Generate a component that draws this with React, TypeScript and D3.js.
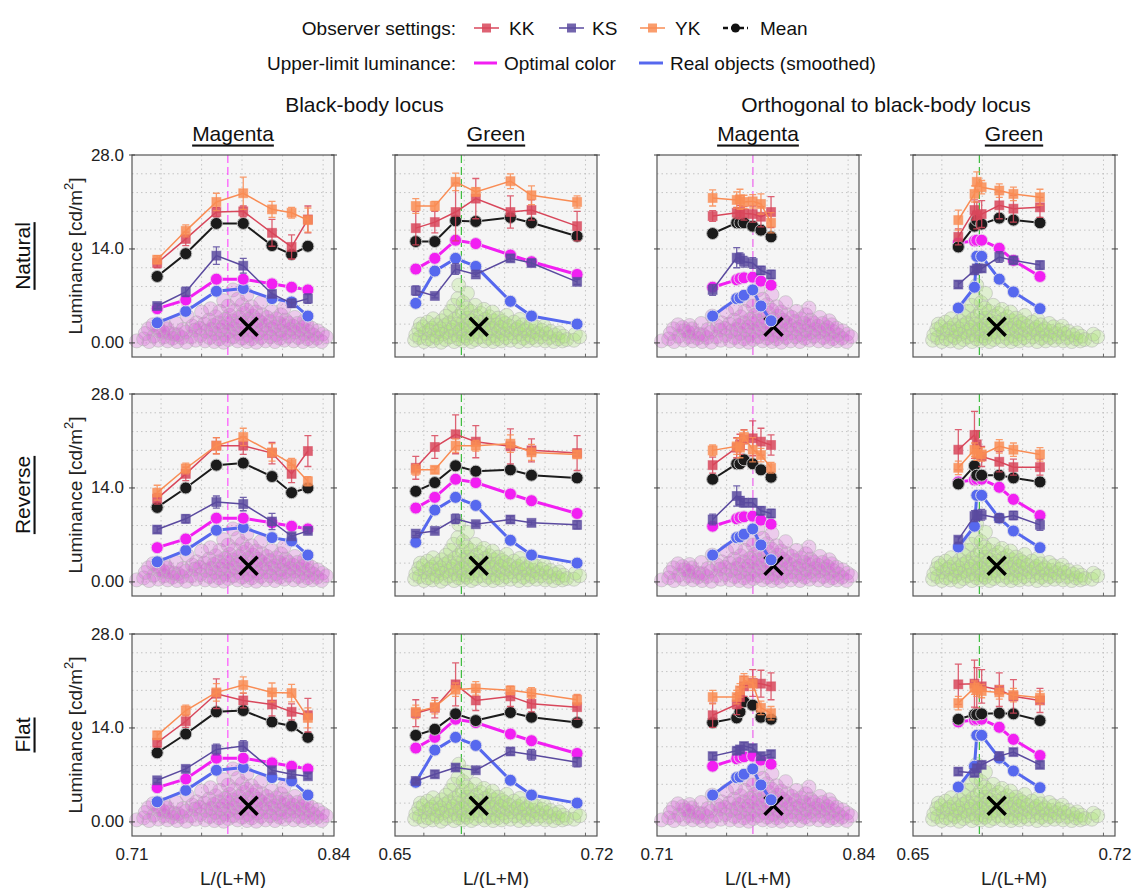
import React, { useEffect, useRef } from 'react'
import * as d3 from 'd3'

// chromaticity of the stimuli, one list per column
const xBBMagenta = [0.7262, 0.7446, 0.7643, 0.7816, 0.8001, 0.8127, 0.8232]
const xBBGreen = [0.6572, 0.6638, 0.671, 0.678, 0.69, 0.6973, 0.7131]
const xOrthMagenta = [0.7458, 0.7613, 0.7634, 0.766, 0.7716, 0.7769, 0.7834]
const xOrthGreen = [0.6657, 0.6713, 0.6721, 0.6738, 0.6799, 0.6848, 0.694]

// upper-limit luminance (same in every row)
const optimalColor = [
  [5.1, 6.4, 9.5, 9.5, 8.8, 8.3, 7.9],
  [11.0, 12.6, 15.3, 14.8, 13.1, 12.1, 10.2],
  [8.3, 9.4, 9.6, 9.7, 9.8, 9.2, 8.6],
  [14.9, 15.2, 15.3, 15.3, 14.1, 12.3, 9.9],
]
const realObjects = [
  [3.0, 4.7, 7.7, 8.1, 6.6, 6.1, 4.0],
  [5.9, 10.7, 12.6, 11.4, 6.2, 4.0, 2.8],
  [4.0, 6.6, 6.7, 7.1, 7.9, 5.5, 3.3],
  [5.2, 8.3, 12.9, 12.9, 9.5, 7.6, 5.1],
]

// Natural
const naturalKK = [
  [11.9, 15.5, 19.5, 19.6, 16.4, 14.3, 18.4],
  [17.1, 18.0, 19.5, 21.5, 19.5, 19.8, 17.4],
  [18.9, 19.4, 19.5, 19.3, 19.2, 18.8, 19.5],
  [15.8, 19.8, 19.0, 19.2, 20.5, 20.0, 20.2],
]
const naturalKKErr = [
  [0.7, 1.0, 0.7, 0.8, 2.0, 1.8, 2.0],
  [2.5, 1.6, 4.3, 3.0, 2.4, 1.5, 2.2],
  [0.8, 0.8, 1.0, 1.0, 1.2, 1.5, 2.3],
  [1.2, 1.5, 2.0, 2.0, 2.0, 2.0, 1.5],
]
const naturalKS = [
  [5.5, 7.6, 13.0, 11.5, 7.3, 5.9, 6.6],
  [7.8, 7.0, 11.0, 10.2, 12.6, 11.9, 9.1],
  [7.9, 12.7, 12.6, 12.1, 11.9, 10.8, 10.2],
  [8.7, 10.8, 11.1, 11.1, 12.8, 12.3, 11.6],
]
const naturalKSErr = [
  [0.4, 0.7, 1.3, 1.1, 0.5, 0.6, 0.7],
  [0.7, 0.3, 0.8, 0.3, 0.5, 0.5, 0.4],
  [0.8, 1.5, 0.8, 0.8, 0.8, 0.6, 0.6],
  [0.5, 0.5, 0.5, 0.5, 0.8, 0.5, 0.6],
]
const naturalYK = [
  [12.4, 16.7, 21.0, 22.3, 19.9, 19.4, 18.3],
  [20.4, 20.4, 24.0, 22.5, 24.1, 22.0, 21.0],
  [21.6, 21.3, 21.4, 21.0, 21.1, 20.7, 17.9],
  [18.3, 22.2, 24.0, 23.2, 22.7, 22.2, 21.7],
]
const naturalYKErr = [
  [0.6, 0.9, 1.3, 2.4, 1.2, 0.8, 1.8],
  [1.1, 0.7, 1.3, 0.6, 1.1, 1.4, 0.9],
  [1.2, 1.2, 1.5, 1.0, 1.0, 1.5, 1.5],
  [1.5, 1.2, 1.5, 1.0, 1.0, 1.0, 1.2],
]
const naturalMean = [
  [9.9, 13.3, 17.8, 17.8, 14.5, 13.2, 14.4],
  [15.1, 15.1, 18.2, 18.1, 18.7, 17.9, 15.9],
  [16.3, 17.9, 17.9, 17.9, 17.4, 16.8, 15.8],
  [14.3, 17.4, 18.3, 17.7, 18.6, 18.3, 17.9],
]

// Reverse
const reverseKK = [
  [12.4, 16.1, 20.3, 20.3, 19.2, 16.1, 19.5],
  [17.0, 20.1, 22.0, 20.9, 20.2, 19.6, 19.2],
  [17.4, 20.0, 20.5, 21.2, 21.4, 20.9, 20.4],
  [19.7, 21.9, 20.5, 18.7, 17.9, 17.1, 17.1],
]
const reverseKKErr = [
  [0.8, 1.0, 1.2, 1.3, 1.6, 1.3, 2.3],
  [1.7, 1.7, 2.9, 2.4, 2.6, 1.7, 2.6],
  [1.2, 1.5, 1.5, 1.5, 2.6, 2.0, 1.5],
  [3.0, 3.5, 2.0, 1.5, 1.5, 1.2, 1.2],
]
const reverseKS = [
  [7.8, 9.4, 11.9, 11.6, 9.0, 6.8, 7.6],
  [7.2, 7.6, 9.4, 8.6, 9.3, 8.8, 8.5],
  [9.3, 12.8, 12.1, 11.8, 11.8, 10.6, 10.2],
  [6.3, 9.8, 9.9, 10.0, 9.5, 9.9, 8.5],
]
const reverseKSErr = [
  [0.5, 0.6, 0.9, 1.0, 1.2, 0.4, 0.4],
  [0.3, 0.3, 0.7, 0.3, 0.5, 0.3, 0.6],
  [0.8, 1.5, 0.6, 0.6, 0.6, 0.6, 0.6],
  [0.4, 0.8, 0.8, 0.8, 0.6, 0.6, 0.8],
]
const reverseYK = [
  [13.3, 16.9, 20.3, 21.6, 19.3, 17.6, 15.0],
  [16.7, 16.7, 20.3, 20.3, 20.6, 19.3, 19.0],
  [19.6, 20.2, 20.0, 21.6, 19.7, 18.9, 17.0],
  [17.0, 19.7, 19.1, 19.0, 20.2, 19.7, 19.0],
]
const reverseYKErr = [
  [1.1, 0.8, 1.2, 1.3, 1.3, 0.8, 0.7],
  [0.8, 0.5, 1.0, 0.8, 1.3, 1.2, 0.5],
  [0.8, 1.2, 1.5, 1.0, 1.8, 1.0, 0.8],
  [1.0, 1.0, 1.0, 1.0, 1.0, 1.0, 1.0],
]
const reverseMean = [
  [11.1, 14.0, 17.4, 17.7, 15.7, 13.3, 14.0],
  [13.5, 14.8, 17.3, 16.5, 16.7, 15.9, 15.5],
  [15.3, 17.6, 17.6, 18.2, 17.6, 16.7, 15.6],
  [14.6, 17.3, 15.9, 15.9, 15.9, 15.5, 14.9],
]

// Flat
const flatKK = [
  [11.8, 15.0, 19.1, 18.1, 17.5, 16.4, 15.9],
  [16.2, 17.0, 20.5, 18.1, 18.7, 17.6, 17.1],
  [15.9, 17.5, 18.6, 20.2, 20.7, 20.6, 20.2],
  [20.5, 20.6, 20.0, 20.2, 19.7, 18.7, 18.1],
]
const flatKKErr = [
  [0.6, 0.9, 2.2, 1.1, 1.7, 1.2, 2.5],
  [2.0, 1.5, 3.2, 1.5, 1.5, 1.2, 1.8],
  [1.8, 1.5, 1.5, 1.5, 2.0, 2.0, 2.0],
  [3.0, 3.5, 3.0, 2.5, 2.5, 2.5, 1.8],
]
const flatKS = [
  [6.2, 7.9, 10.8, 11.3, 7.7, 7.1, 6.8],
  [6.1, 7.1, 8.1, 7.7, 10.5, 10.0, 8.9],
  [9.8, 10.6, 10.8, 11.3, 11.0, 9.8, 10.1],
  [7.5, 7.3, 8.0, 8.5, 9.8, 10.4, 8.5],
]
const flatKSErr = [
  [0.3, 0.4, 0.8, 0.8, 0.4, 0.4, 0.4],
  [0.3, 0.5, 0.4, 0.3, 0.5, 0.8, 0.7],
  [0.5, 0.5, 0.5, 0.5, 0.5, 0.5, 0.5],
  [0.5, 0.5, 0.5, 0.5, 0.6, 0.5, 0.5],
]
const flatYK = [
  [12.9, 16.6, 19.3, 20.4, 19.3, 19.2, 15.5],
  [16.4, 17.1, 19.7, 19.9, 19.6, 19.2, 18.2],
  [18.6, 18.6, 19.6, 21.1, 20.6, 17.0, 16.2],
  [17.7, 20.0, 19.7, 19.5, 19.3, 18.9, 18.5],
]
const flatYKErr = [
  [0.6, 0.8, 1.3, 1.2, 1.4, 1.3, 1.5],
  [1.0, 1.0, 1.0, 1.0, 0.6, 0.8, 0.8],
  [1.0, 1.0, 1.0, 1.0, 1.0, 1.0, 1.0],
  [1.0, 1.0, 1.0, 1.0, 1.0, 1.0, 1.0],
]
const flatMean = [
  [10.3, 13.1, 16.4, 16.6, 14.9, 14.3, 12.6],
  [12.9, 13.8, 16.1, 15.1, 16.3, 15.6, 14.8],
  [14.8, 15.5, 16.4, 17.9, 17.4, 15.6, 15.3],
  [15.3, 16.0, 16.0, 16.1, 16.2, 16.1, 15.1],
]

// real objects (background clouds)
const magentaCloud: [number, number][] = [
  [0.713, 0.3], [0.7175, 0.6], [0.7185, 1.4], [0.721, 0.2], [0.7205, 2.1], [0.724, 1.0], [0.7235, 2.7],
  [0.727, 0.4], [0.7275, 1.8], [0.7265, 2.3], [0.7305, 0.9], [0.7298, 1.6], [0.731, 2.6], [0.733, 0.3],
  [0.7335, 1.5], [0.7325, 2.1], [0.736, 0.7], [0.7368, 1.3], [0.739, 0.2], [0.7395, 1.2], [0.7385, 2.9],
  [0.742, 0.8], [0.7428, 2.0], [0.745, 0.1], [0.7445, 1.6], [0.7455, 4.0], [0.748, 0.9], [0.7488, 2.5],
  [0.751, 0.4], [0.7505, 1.9], [0.7515, 3.0], [0.754, 1.1], [0.7535, 2.2], [0.7548, 4.6], [0.757, 0.3],
  [0.7575, 1.7], [0.7565, 2.8], [0.760, 0.8], [0.7608, 2.0], [0.7595, 3.4], [0.7605, 5.1], [0.763, 0.2],
  [0.7635, 1.4], [0.7625, 2.6], [0.7638, 3.9], [0.766, 0.6], [0.7668, 1.9], [0.7655, 3.0], [0.7665, 4.7],
  [0.769, 0.1], [0.7695, 1.2], [0.7685, 2.4], [0.7698, 3.5], [0.769, 6.3], [0.772, 0.5], [0.7725, 1.7],
  [0.7715, 2.9], [0.7728, 4.1], [0.7718, 5.5], [0.775, 0.9], [0.7755, 2.1], [0.7745, 3.3], [0.7758, 4.8],
  [0.775, 7.9], [0.778, 0.3], [0.7785, 1.4], [0.7775, 2.6], [0.7788, 3.8], [0.778, 6.5], [0.781, 0.7],
  [0.7815, 1.9], [0.7805, 3.0], [0.7818, 4.4], [0.7808, 5.7], [0.784, 0.2], [0.7845, 1.1], [0.7835, 2.3],
  [0.7848, 3.5], [0.7838, 4.9], [0.784, 7.2], [0.787, 0.6], [0.7875, 1.6], [0.7865, 2.8], [0.7878, 4.0],
  [0.7868, 5.4], [0.790, 0.1], [0.7905, 1.3], [0.7895, 2.5], [0.7908, 3.4], [0.7898, 4.6], [0.793, 0.8],
  [0.7935, 2.0], [0.7925, 3.1], [0.7938, 4.2], [0.7928, 6.0], [0.796, 0.3], [0.7965, 1.5], [0.7955, 2.6],
  [0.7968, 3.8], [0.799, 0.9], [0.7995, 2.1], [0.7985, 3.2], [0.7998, 4.7], [0.802, 0.2], [0.8025, 1.2],
  [0.8015, 2.4], [0.8028, 3.6], [0.805, 0.7], [0.8055, 1.8], [0.8045, 2.9], [0.8058, 4.2], [0.808, 0.4],
  [0.8085, 1.5], [0.8075, 2.6], [0.8088, 3.4], [0.8078, 5.2], [0.811, 1.0], [0.8115, 2.0], [0.8105, 3.0],
  [0.814, 0.3], [0.8145, 1.6], [0.8135, 2.5], [0.8148, 3.8], [0.817, 0.8], [0.8175, 1.9], [0.8165, 2.9],
  [0.820, 0.2], [0.8205, 1.3], [0.8195, 2.3], [0.8208, 3.3], [0.823, 0.6], [0.8235, 1.7], [0.8225, 2.7],
  [0.826, 0.3], [0.8265, 1.2], [0.8255, 2.2], [0.829, 0.7], [0.8295, 1.8], [0.832, 0.2], [0.8325, 1.3],
  [0.835, 0.9],
]
const greenCloud: [number, number][] = [
  [0.6568, 0.4], [0.6572, 1.2], [0.6585, 0.8], [0.6582, 2.0], [0.6588, 2.8], [0.660, 0.2], [0.6604, 1.5],
  [0.6597, 2.4], [0.6615, 0.6], [0.6619, 1.9], [0.6612, 3.1], [0.663, 0.3], [0.6634, 1.1], [0.6627, 2.2],
  [0.6632, 3.6], [0.6645, 0.8], [0.6649, 1.7], [0.6642, 2.7], [0.666, 0.1], [0.6664, 1.3], [0.6657, 2.1],
  [0.6662, 3.3], [0.6675, 0.5], [0.6679, 1.6], [0.6672, 2.6], [0.6677, 4.0], [0.669, 0.9], [0.6694, 1.9],
  [0.6687, 3.0], [0.6692, 4.7], [0.6705, 0.2], [0.6709, 1.2], [0.6702, 2.3], [0.6707, 3.5], [0.6703, 5.6],
  [0.672, 0.6], [0.6724, 1.7], [0.6717, 2.8], [0.6722, 4.0], [0.6718, 6.6], [0.6721, 8.6], [0.6735, 0.3],
  [0.6739, 1.0], [0.6732, 2.1], [0.6737, 3.2], [0.6733, 4.6], [0.6736, 6.0], [0.675, 0.7], [0.6754, 1.5],
  [0.6747, 2.5], [0.6752, 3.7], [0.6748, 5.2], [0.6751, 7.4], [0.6765, 0.2], [0.6769, 1.3], [0.6762, 2.3],
  [0.6767, 3.3], [0.6763, 4.7], [0.678, 0.5], [0.6784, 1.7], [0.6777, 2.8], [0.6782, 4.0], [0.6778, 5.6],
  [0.6795, 0.9], [0.6799, 2.0], [0.6792, 3.1], [0.6797, 4.4], [0.681, 0.3], [0.6814, 1.4], [0.6807, 2.4],
  [0.6812, 3.5], [0.6808, 5.0], [0.6825, 0.7], [0.6829, 1.8], [0.6822, 2.9], [0.6827, 3.9], [0.684, 0.2],
  [0.6844, 1.1], [0.6837, 2.2], [0.6842, 3.3], [0.6838, 4.6], [0.6855, 0.6], [0.6859, 1.7], [0.6852, 2.7],
  [0.6857, 3.7], [0.687, 0.3], [0.6874, 1.3], [0.6867, 2.3], [0.6872, 3.2], [0.6885, 0.8], [0.6889, 1.9],
  [0.6882, 2.9], [0.6887, 4.1], [0.690, 0.4], [0.6904, 1.5], [0.6897, 2.5], [0.6915, 0.9], [0.6919, 2.0],
  [0.6912, 3.1], [0.693, 0.2], [0.6934, 1.3], [0.6927, 2.3], [0.6932, 3.5], [0.6945, 0.7], [0.6949, 1.8],
  [0.6942, 2.7], [0.696, 0.3], [0.6964, 1.2], [0.6957, 2.1], [0.6975, 0.8], [0.6979, 1.7], [0.6972, 2.9],
  [0.699, 0.4], [0.6994, 1.4], [0.6987, 2.4], [0.7005, 0.9], [0.7009, 1.9], [0.702, 0.3], [0.7024, 1.4],
  [0.7017, 2.5], [0.7035, 0.8], [0.7039, 1.7], [0.705, 0.2], [0.7054, 1.2], [0.7065, 0.6], [0.7069, 1.5],
  [0.708, 0.3], [0.7084, 1.0], [0.7095, 0.5], [0.712, 0.4], [0.7125, 1.3], [0.714, 0.9],
]

const rowNames = ['Natural', 'Reverse', 'Flat']
const colNames = ['Magenta', 'Green', 'Magenta', 'Green']
const groupTitles = ['Black-body locus', 'Orthogonal to black-body locus']
const yTicks = [0, 14, 28]
const yTickLabels = ['0.00', '14.0', '28.0']
const magentaDomain = [0.71, 0.84]
const greenDomain = [0.65, 0.72]
const magentaGrid = [0.7287, 0.7548, 0.7808, 0.8069, 0.833]
const greenGrid = [0.66, 0.674, 0.688, 0.702, 0.716]
const whitePoint = [0.7717, 0.673, 0.7717, 0.673]
const meanCloud = [[0.785, 2.4], [0.679, 2.4], [0.785, 2.4], [0.679, 2.4]]

const FONT = '"Liberation Sans", Arial, Helvetica, sans-serif'
const C_KK = '#d8475b'
const C_KS = '#5a4a9f'
const C_YK = '#f98c54'
const C_OPT = '#f21ff2'
const C_REAL = '#5668ee'

const S = 202
const PANEL_X = [132, 395, 657, 913]
const PANEL_Y = [155, 394, 634]

const App = () => {
  const refSvg = useRef<SVGSVGElement>(null)

  const draw = () => {
    const svg = d3.select(refSvg.current)
    svg.selectAll('*').remove()

    const rows = [
      { kk: naturalKK, kkErr: naturalKKErr, ks: naturalKS, ksErr: naturalKSErr, yk: naturalYK, ykErr: naturalYKErr, mean: naturalMean },
      { kk: reverseKK, kkErr: reverseKKErr, ks: reverseKS, ksErr: reverseKSErr, yk: reverseYK, ykErr: reverseYKErr, mean: reverseMean },
      { kk: flatKK, kkErr: flatKKErr, ks: flatKS, ksErr: flatKSErr, yk: flatYK, ykErr: flatYKErr, mean: flatMean },
    ]
    const cols = [
      { xs: xBBMagenta, domain: magentaDomain, grid: magentaGrid, cloud: magentaCloud, cloudFill: '#d85cd8', wp: '#ff33ff', wpW: 1, ticks: ['0.71', '0.84'] },
      { xs: xBBGreen, domain: greenDomain, grid: greenGrid, cloud: greenCloud, cloudFill: '#a8e070', wp: '#3cbc3c', wpW: 1.2, ticks: ['0.65', '0.72'] },
      { xs: xOrthMagenta, domain: magentaDomain, grid: magentaGrid, cloud: magentaCloud, cloudFill: '#d85cd8', wp: '#ee88ee', wpW: 1.6, ticks: ['0.71', '0.84'] },
      { xs: xOrthGreen, domain: greenDomain, grid: greenGrid, cloud: greenCloud, cloudFill: '#a8e070', wp: '#3cbc3c', wpW: 1.2, ticks: ['0.65', '0.72'] },
    ]

    rows.forEach((row, r) => {
      cols.forEach((col, c) => {
        const px = PANEL_X[c]
        const py = PANEL_Y[r]
        const x = d3.scaleLinear().domain(col.domain).range([px, px + S])
        const y = d3.scaleLinear().domain([-2.1, 28]).range([py + S, py])
        const g = svg.append('g')

        g.append('rect').attr('x', px).attr('y', py).attr('width', S).attr('height', S).attr('fill', '#f5f5f5')

        // grid
        g.selectAll('.hg').data(d3.range(0, 28, 2.8)).enter().append('line')
          .attr('x1', px).attr('x2', px + S).attr('y1', (d) => y(d)).attr('y2', (d) => y(d))
          .attr('stroke', '#c4c4c4').attr('stroke-width', 1).attr('stroke-dasharray', '1.5,3')
        g.selectAll('.vg').data(col.grid).enter().append('line')
          .attr('x1', (d) => x(d)).attr('x2', (d) => x(d)).attr('y1', py).attr('y2', py + S)
          .attr('stroke', '#c4c4c4').attr('stroke-width', 1).attr('stroke-dasharray', '1.5,3')

        // white point
        g.append('line').attr('x1', x(whitePoint[c])).attr('x2', x(whitePoint[c])).attr('y1', py).attr('y2', py + S)
          .attr('stroke', col.wp).attr('stroke-width', col.wpW).attr('stroke-dasharray', '8,4')

        // cloud of real objects
        g.selectAll('.cl').data(col.cloud).enter().append('circle')
          .attr('cx', (d) => x(d[0])).attr('cy', (d) => y(d[1])).attr('r', 7)
          .attr('fill', col.cloudFill).attr('fill-opacity', 0.27)
          .attr('stroke', '#b4b4b4').attr('stroke-opacity', 0.55).attr('stroke-width', 1)

        const mc = meanCloud[c]
        const cx = x(mc[0])
        const cy = y(mc[1])
        g.append('path').attr('d', `M${cx - 9},${cy - 9}L${cx + 9},${cy + 9}M${cx - 9},${cy + 9}L${cx + 9},${cy - 9}`)
          .attr('stroke', '#000').attr('stroke-width', 3.5)

        const pts = (vals: number[]) => vals.map((v, i) => [col.xs[i], v] as [number, number])
        const line = d3.line<[number, number]>().x((d) => x(d[0])).y((d) => y(d[1]))

        const circles = (vals: number[], color: string, width: number, stroke: string) => {
          g.append('path').datum(pts(vals)).attr('d', line).attr('fill', 'none').attr('stroke', color).attr('stroke-width', width)
          g.selectAll(null).data(pts(vals)).enter().append('circle')
            .attr('cx', (d) => x(d[0])).attr('cy', (d) => y(d[1])).attr('r', 6)
            .attr('fill', color).attr('stroke', stroke).attr('stroke-width', 1)
        }

        const squares = (vals: number[], errs: number[], color: string) => {
          const data = pts(vals)
          g.append('path').datum(data).attr('d', line).attr('fill', 'none').attr('stroke', color).attr('stroke-width', 1.5)
          data.forEach((d, i) => {
            const xx = x(d[0])
            const y0 = y(d[1] - errs[i])
            const y1 = y(d[1] + errs[i])
            g.append('path').attr('d', `M${xx},${y0}L${xx},${y1}M${xx - 3.5},${y0}L${xx + 3.5},${y0}M${xx - 3.5},${y1}L${xx + 3.5},${y1}`)
              .attr('stroke', color).attr('stroke-width', 1.3).attr('stroke-opacity', 0.85).attr('fill', 'none')
          })
          g.selectAll(null).data(data).enter().append('rect')
            .attr('x', (d) => x(d[0]) - 4.5).attr('y', (d) => y(d[1]) - 4.5).attr('width', 9).attr('height', 9)
            .attr('fill', color).attr('fill-opacity', 0.85).attr('stroke', color).attr('stroke-opacity', 0.5)
        }

        circles(realObjects[c], C_REAL, 3, '#d8d8e8')
        circles(optimalColor[c], C_OPT, 3, '#e8d0e8')
        squares(row.ks[c], row.ksErr[c], C_KS)
        circles(row.mean[c], '#1b1b1b', 2, '#bbbbbb')
        squares(row.kk[c], row.kkErr[c], C_KK)
        squares(row.yk[c], row.ykErr[c], C_YK)

        // frame and ticks
        g.append('rect').attr('x', px).attr('y', py).attr('width', S).attr('height', S)
          .attr('fill', 'none').attr('stroke', '#555').attr('stroke-width', 1.2)
        yTicks.forEach((t) => {
          g.append('line').attr('x1', px - 3).attr('x2', px + 3).attr('y1', y(t)).attr('y2', y(t)).attr('stroke', '#444')
          g.append('line').attr('x1', px + S - 3).attr('x2', px + S + 3).attr('y1', y(t)).attr('y2', y(t)).attr('stroke', '#444')
        })
        col.grid.forEach((t) => {
          g.append('line').attr('x1', x(t)).attr('x2', x(t)).attr('y1', py + S - 3).attr('y2', py + S).attr('stroke', '#666')
        })

        if (c === 0) {
          yTicks.forEach((t, i) => {
            g.append('text').attr('x', px - 8).attr('y', y(t)).attr('text-anchor', 'end').attr('dominant-baseline', 'central')
              .attr('font-family', FONT).attr('font-size', 17).attr('fill', '#222').text(yTickLabels[i])
          })
          const lab = g.append('text').attr('transform', `translate(75,${py + S / 2}) rotate(-90)`)
            .attr('text-anchor', 'middle').attr('dominant-baseline', 'central')
            .attr('font-family', FONT).attr('font-size', 19).attr('fill', '#222')
          lab.append('tspan').text('Luminance [cd/m')
          lab.append('tspan').attr('dy', -7).attr('font-size', 13).text('2')
          lab.append('tspan').attr('dy', 7).text(']')
          g.append('text').attr('transform', `translate(22,${py + S / 2}) rotate(-90)`)
            .attr('text-anchor', 'middle').attr('dominant-baseline', 'central')
            .attr('font-family', FONT).attr('font-size', 21).attr('fill', '#111')
            .attr('text-decoration', 'underline').text(rowNames[r])
        }
        if (r === 2) {
          col.ticks.forEach((t, i) => {
            g.append('text').attr('x', i === 0 ? px : px + S).attr('y', py + S + 18).attr('text-anchor', 'middle')
              .attr('dominant-baseline', 'central').attr('font-family', FONT).attr('font-size', 17).attr('fill', '#222').text(t)
          })
          g.append('text').attr('x', px + S / 2).attr('y', py + S + 42).attr('text-anchor', 'middle')
            .attr('dominant-baseline', 'central').attr('font-family', FONT).attr('font-size', 19).attr('fill', '#222').text('L/(L+M)')
        }
        if (r === 0) {
          g.append('text').attr('x', px + S / 2).attr('y', 133).attr('text-anchor', 'middle')
            .attr('dominant-baseline', 'central').attr('font-family', FONT).attr('font-size', 21).attr('fill', '#111')
            .attr('text-decoration', 'underline').text(colNames[c])
        }
      })
    })

    groupTitles.forEach((t, i) => {
      const a = PANEL_X[i * 2] + S / 2
      const b = PANEL_X[i * 2 + 1] + S / 2
      svg.append('text').attr('x', (a + b) / 2).attr('y', 104).attr('text-anchor', 'middle')
        .attr('dominant-baseline', 'central').attr('font-family', FONT).attr('font-size', 21).attr('fill', '#111').text(t)
    })

    // legend
    const leg = svg.append('g').attr('font-family', FONT).attr('font-size', 19).attr('fill', '#111')
    const ly1 = 28
    const ly2 = 63
    leg.append('text').attr('x', 456).attr('y', ly1).attr('text-anchor', 'end').attr('dominant-baseline', 'central').text('Observer settings:')
    leg.append('text').attr('x', 456).attr('y', ly2).attr('text-anchor', 'end').attr('dominant-baseline', 'central').text('Upper-limit luminance:')
    const obsItems = [
      { label: 'KK', color: C_KK, x0: 474, tx: 509 },
      { label: 'KS', color: C_KS, x0: 559, tx: 592 },
      { label: 'YK', color: C_YK, x0: 640, tx: 675 },
    ]
    obsItems.forEach((it) => {
      leg.append('line').attr('x1', it.x0).attr('x2', it.x0 + 25).attr('y1', ly1).attr('y2', ly1).attr('stroke', it.color).attr('stroke-width', 1.5)
      leg.append('rect').attr('x', it.x0 + 8).attr('y', ly1 - 4.5).attr('width', 9).attr('height', 9).attr('fill', it.color).attr('fill-opacity', 0.85)
      leg.append('text').attr('x', it.tx).attr('y', ly1).attr('dominant-baseline', 'central').text(it.label)
    })
    leg.append('line').attr('x1', 723).attr('x2', 748).attr('y1', ly1).attr('y2', ly1).attr('stroke', '#111').attr('stroke-width', 2.5).attr('stroke-dasharray', '5,3')
    leg.append('circle').attr('cx', 735.5).attr('cy', ly1).attr('r', 4.5).attr('fill', '#111')
    leg.append('text').attr('x', 760).attr('y', ly1).attr('dominant-baseline', 'central').text('Mean')

    leg.append('line').attr('x1', 474).attr('x2', 497).attr('y1', ly2).attr('y2', ly2).attr('stroke', C_OPT).attr('stroke-width', 3)
    leg.append('text').attr('x', 504).attr('y', ly2).attr('dominant-baseline', 'central').text('Optimal color')
    leg.append('line').attr('x1', 639).attr('x2', 663).attr('y1', ly2).attr('y2', ly2).attr('stroke', C_REAL).attr('stroke-width', 3)
    leg.append('text').attr('x', 670).attr('y', ly2).attr('dominant-baseline', 'central').text('Real objects (smoothed)')
  }

  useEffect(() => {
    if (refSvg.current) {
      draw()
    }
  })

  return <svg ref={refSvg} width={1135} height={888} style={{ position: 'absolute', left: 0, top: 0 }} />
}

export default App
